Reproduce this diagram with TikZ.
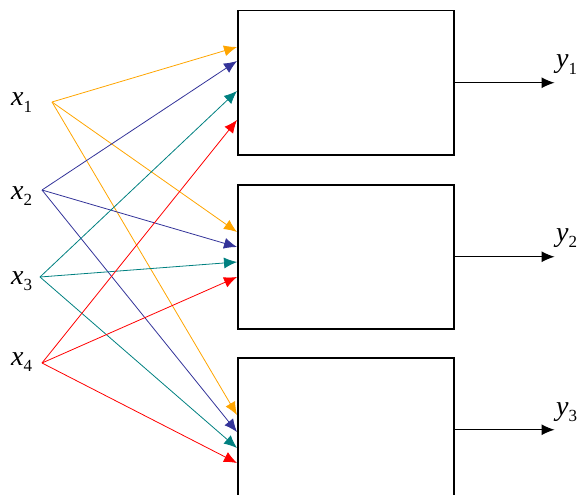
\documentclass[tikz,border=0pt]{standalone}
\usepackage{fontspec}
\setmainfont{Liberation Serif}
\usetikzlibrary{arrows.meta}
\definecolor{iorange}{RGB}{255,165,0}
\definecolor{iblue}{RGB}{51,51,153}
\definecolor{iteal}{RGB}{0,128,128}
\definecolor{ired}{RGB}{255,0,0}
\newcommand{\sublab}[2]{\textit{#1}\raisebox{-6pt}{\fontsize{17}{17}\selectfont #2}}
\tikzset{
  block/.style={draw, line width=1.5pt, minimum width=216pt, minimum height=144pt, inner sep=0pt, anchor=north west},
  link/.style={line width=0.8pt, -{Latex[length=13pt,width=11pt]}},
  lab/.style={inner sep=0pt, font=\fontsize{28}{32}\selectfont}
}

\begin{document}
\begin{tikzpicture}[x=1pt,y=-1pt]
\useasboundingbox (0,0) rectangle (581,495);

% blocks
\node[block] (B1) at (237,10) {};
\node[block] (B2) at (237,184) {};
\node[block] (B3) at (237,357) {};

% inputs
\coordinate (X1) at (52,102);
\coordinate (X2) at (42,190);
\coordinate (X3) at (40,277);
\coordinate (X4) at (42,363);
\node[lab, anchor=base west] (L1) at (11,106) {\sublab{x}{1}};
\node[lab, anchor=base west] (L2) at (11,199) {\sublab{x}{2}};
\node[lab, anchor=base west] (L3) at (11,284) {\sublab{x}{3}};
\node[lab, anchor=base west] (L4) at (11,365) {\sublab{x}{4}};

% entry points on the left sides
\foreach \i/\d in {1/37,2/51,3/81,4/110}
  \coordinate (in1\i) at ([yshift=-\d pt]B1.north west);
\foreach \i/\d in {1/48,2/63,3/78,4/93}
  \coordinate (in2\i) at ([yshift=-\d pt]B2.north west);
\foreach \i/\d in {1/58,2/75,3/91,4/106}
  \coordinate (in3\i) at ([yshift=-\d pt]B3.north west);

\foreach \i/\c in {1/iorange,2/iblue,3/iteal,4/ired}
  \foreach \j in {1,2,3}
    \draw[link, \c] (X\i) -- (in\j\i);

% outputs
\foreach \j/\b in {1/68,2/241,3/415}{
  \coordinate (Y\j) at ([xshift=100pt]B\j.east);
  \draw[link, line width=1pt, black] (B\j.east) -- (Y\j);
  \node[lab, anchor=base west] (M\j) at (556,\b) {\sublab{y}{\j}};
}
\end{tikzpicture}
\end{document}
